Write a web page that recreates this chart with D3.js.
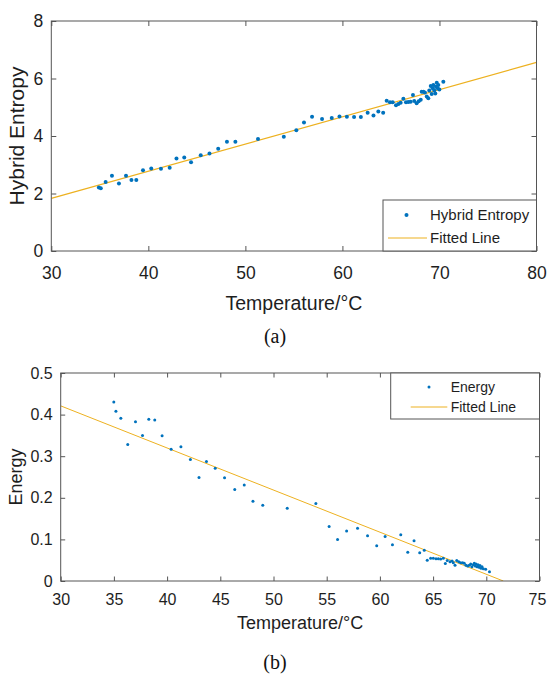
<!DOCTYPE html>
<html><head><meta charset="utf-8">
<script src="https://cdn.jsdelivr.net/npm/d3@7"></script>
<style>body{margin:0;background:#fff}svg{display:block}</style>
</head><body>
<svg id="c" width="547" height="676"></svg>
<script>
// ---------- DATA ----------
const tempA = [34.9,35.1,35.6,36.25,36.97,37.7,38.26,38.76,39.45,40.3,41.3,42.2,42.9,43.7,44.4,45.4,46.3,47.2,48.1,48.97,51.3,53.96,55.25,56.04,56.87,57.9,58.9,59.7,60.46,61.2,61.9,62.6,63.2,63.7,64.2,64.56,64.9,65.18,65.52,65.77,66.0,66.28,66.55,66.79,67.03,67.27,67.4,67.65,67.86,68.07,68.17,68.34,68.5,68.69,68.85,68.95,69.1,69.2,69.3,69.37,69.47,69.57,69.64,69.72,69.82,69.88,69.99,70.4];
const entropyA = [2.21,2.18,2.40,2.62,2.35,2.62,2.47,2.47,2.81,2.87,2.86,2.90,3.22,3.25,3.09,3.33,3.39,3.56,3.80,3.80,3.90,3.97,4.20,4.47,4.67,4.59,4.63,4.68,4.67,4.66,4.66,4.81,4.71,4.85,4.81,5.23,5.17,5.17,5.07,5.11,5.16,5.30,5.17,5.18,5.19,5.43,5.22,5.14,5.21,5.26,5.54,5.54,5.51,5.37,5.31,5.58,5.74,5.46,5.66,5.77,5.58,5.48,5.71,5.85,5.66,5.77,5.62,5.89];
const fitXA = [30, 80];
const fitYA = [1.83, 6.56];
const xTicksA = [30,40,50,60,70,80];
const yTicksA = [0,2,4,6,8];
const legendA = ["Hybrid Entropy", "Fitted Line"];

const tempB = [34.99,35.19,35.65,36.3,37.03,37.69,38.28,38.84,39.53,40.38,41.3,42.19,43.0,43.7,44.52,45.4,46.36,47.25,48.07,48.99,51.29,53.98,55.23,56.02,56.87,57.9,58.84,59.7,60.49,61.18,61.96,62.62,63.21,63.74,64.17,64.45,64.77,65.02,65.27,65.49,65.71,65.96,66.15,66.33,66.59,66.78,66.9,67.06,67.22,67.41,67.59,67.78,67.93,68.09,68.25,68.4,68.53,68.65,68.78,68.87,68.97,69.03,69.13,69.22,69.31,69.41,69.5,69.6,69.72,69.94,70.3];
const energyB = [0.430,0.408,0.391,0.328,0.383,0.350,0.389,0.387,0.349,0.317,0.323,0.292,0.249,0.287,0.271,0.248,0.220,0.231,0.192,0.182,0.175,0.186,0.131,0.100,0.120,0.127,0.109,0.085,0.107,0.087,0.111,0.069,0.097,0.068,0.074,0.050,0.0545,0.0545,0.0537,0.0537,0.053,0.0545,0.042,0.049,0.046,0.048,0.044,0.038,0.049,0.046,0.044,0.044,0.0425,0.038,0.036,0.0377,0.041,0.034,0.039,0.0425,0.036,0.041,0.034,0.039,0.033,0.037,0.0305,0.034,0.0295,0.028,0.022];
const fitXB = [30, 71.6];
const fitYB = [0.421, 0];
const xTicksB = [30,35,40,45,50,55,60,65,70,75];
const yTicksB = [0,0.1,0.2,0.3,0.4,0.5];
const legendB = ["Energy", "Fitted Line"];

const xTitle = "Temperature/°C";
const yTitleA = "Hybrid Entropy";
const yTitleB = "Energy";
const captions = ["(a)", "(b)"];

// ---------- DRAW ----------
const svg = d3.select("#c");
const SANS = "'Liberation Sans', Arial, Helvetica, sans-serif";
const SERIF = "'Liberation Serif', 'Times New Roman', serif";
const DOT = "#0072BD", FIT = "#EDB120", AX = "#555", TXT = "#1e1e1e";

function panel(o) {
  const g = svg.append("g");
  const x = d3.scaleLinear().domain(o.xDom).range([o.L, o.R]);
  const y = d3.scaleLinear().domain(o.yDom).range([o.B, o.T]);
  const id = "clip" + o.key;
  svg.append("clipPath").attr("id", id).append("rect")
    .attr("x", o.L).attr("y", o.T).attr("width", o.R - o.L).attr("height", o.B - o.T);

  g.append("path").attr("clip-path", `url(#${id})`)
    .datum(o.fitX.map((d, i) => [d, o.fitY[i]]))
    .attr("d", d3.line().x(d => x(d[0])).y(d => y(d[1])))
    .attr("fill", "none").attr("stroke", FIT).attr("stroke-width", o.fitW);

  g.append("g").attr("clip-path", `url(#${id})`).selectAll("circle")
    .data(o.xs.map((d, i) => [d, o.ys[i]])).join("circle")
    .attr("cx", d => x(d[0])).attr("cy", d => y(d[1])).attr("r", o.r).attr("fill", DOT);

  const styleAxis = sel => {
    sel.select(".domain").remove();
    sel.selectAll(".tick line").attr("stroke", AX);
    sel.selectAll(".tick text").attr("fill", TXT).style("font-family", SANS).style("font-size", o.tickFs + "px");
  };
  const bx = g.append("g").attr("transform", `translate(0,${o.B})`)
    .call(d3.axisBottom(x).tickValues(o.xTicks).tickSizeInner(-o.tl).tickSizeOuter(0).tickPadding(o.xPad).tickFormat(d3.format("")))
    .call(styleAxis);
  if (o.lastShift) bx.selectAll(".tick text").filter((d, i, n) => i === n.length - 1).attr("dx", o.lastShift);
  g.append("g").attr("transform", `translate(0,${o.T})`)
    .call(d3.axisTop(x).tickValues(o.xTicks).tickSizeInner(-o.tl).tickSizeOuter(0).tickFormat(""))
    .call(styleAxis);
  g.append("g").attr("transform", `translate(${o.L},0)`)
    .call(d3.axisLeft(y).tickValues(o.yTicks).tickSizeInner(-o.tl).tickSizeOuter(0).tickPadding(o.yPad).tickFormat(d => String(+d.toFixed(2))))
    .call(styleAxis);
  g.append("g").attr("transform", `translate(${o.R},0)`)
    .call(d3.axisRight(y).tickValues(o.yTicks).tickSizeInner(-o.tl).tickSizeOuter(0).tickFormat(""))
    .call(styleAxis);

  g.append("rect").attr("x", o.L).attr("y", o.T).attr("width", o.R - o.L).attr("height", o.B - o.T)
    .attr("fill", "none").attr("stroke", AX).attr("stroke-width", 1);

  const lg = o.leg;
  g.append("rect").attr("x", lg.x0).attr("y", lg.y0).attr("width", lg.x1 - lg.x0).attr("height", lg.y1 - lg.y0)
    .attr("fill", "#fff").attr("stroke", AX).attr("stroke-width", 1);
  g.append("circle").attr("cx", lg.mx).attr("cy", lg.r1).attr("r", o.r).attr("fill", DOT);
  g.append("line").attr("x1", lg.lx0).attr("x2", lg.lx1).attr("y1", lg.r2).attr("y2", lg.r2)
    .attr("stroke", FIT).attr("stroke-width", o.fitW);
  [lg.r1, lg.r2].forEach((yy, i) => {
    g.append("text").attr("x", lg.tx).attr("y", yy).attr("dy", "0.35em")
      .attr("fill", TXT).style("font-family", SANS).style("font-size", lg.fs + "px").text(o.legend[i]);
  });

  g.append("text").attr("x", (o.L + o.R) / 2).attr("y", o.xtY).attr("text-anchor", "middle")
    .attr("fill", TXT).style("font-family", SANS).style("font-size", o.xtFs + "px").text(xTitle);
  g.append("text").attr("transform", `translate(${o.ytX},${(o.T + o.B) / 2}) rotate(-90)`).attr("text-anchor", "middle")
    .attr("fill", TXT).style("font-family", SANS).style("font-size", o.ytFs + "px").text(o.yTitle);
  g.append("text").attr("x", o.capX).attr("y", o.capY).attr("text-anchor", "middle")
    .attr("fill", "#111").style("font-family", SERIF).style("font-size", "20px").text(o.caption);
}

panel({key: "A", xs: tempA, ys: entropyA, fitX: fitXA, fitY: fitYA, xTicks: xTicksA, yTicks: yTicksA,
  xDom: [30, 80], yDom: [0, 8], L: 51.3, R: 536.5, T: 21, B: 251, tl: 5, r: 2, fitW: 1.2,
  tickFs: 17.5, xPad: 16, yPad: 8, xtY: 310, xtFs: 19.5, ytX: 24, ytFs: 21, yTitle: yTitleA,
  capX: 275, capY: 343, caption: captions[0], legend: legendA,
  leg: {x0: 383, x1: 536.5, y0: 200, y1: 251, mx: 406.5, r1: 215, r2: 238, lx0: 388, lx1: 427, tx: 430, fs: 15}});

panel({key: "B", xs: tempB, ys: energyB, fitX: fitXB, fitY: fitYB, xTicks: xTicksB, yTicks: yTicksB,
  xDom: [30, 75], yDom: [0, 0.5], L: 60.7, R: 539.5, T: 373, B: 581, tl: 4.5, r: 1.5, fitW: 1,
  tickFs: 16, xPad: 13, yPad: 8, xtY: 629, xtFs: 18, ytX: 22, ytFs: 18, yTitle: yTitleB,
  capX: 275, capY: 669, caption: captions[1], legend: legendB, lastShift: -2.5,
  leg: {x0: 390.7, x1: 539.5, y0: 373, y1: 419, mx: 429, r1: 387, r2: 407, lx0: 410.7, lx1: 447.3, tx: 450.7, fs: 14}});
</script>
</body></html>
